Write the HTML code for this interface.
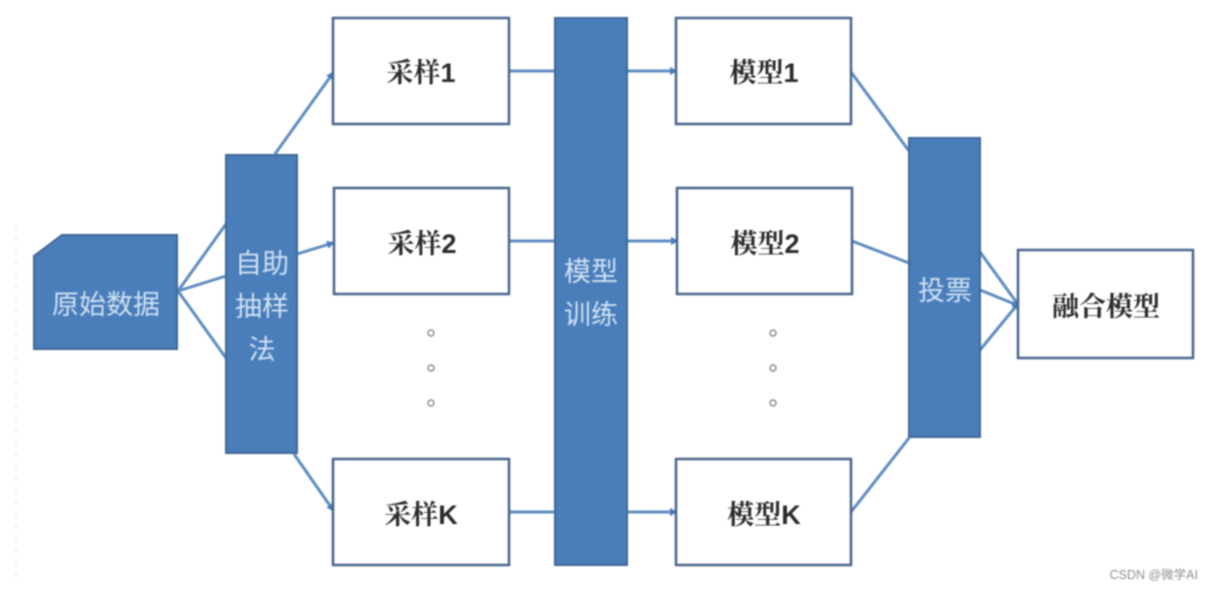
<!DOCTYPE html>
<html>
<head>
<meta charset="utf-8">
<style>
html,body{margin:0;padding:0;background:#fff;width:1212px;height:591px;overflow:hidden}
svg{display:block;filter:blur(0.7px)}
.b{font-family:"Liberation Sans","Noto Serif CJK SC",serif;font-size:27px;font-weight:700;fill:#2b2b2b;text-anchor:middle}
.w{font-family:"Liberation Sans","Noto Sans CJK SC",sans-serif;font-size:27px;fill:#cfe0f2;text-anchor:middle}
.box{fill:#fff;stroke:#48658c;stroke-width:2.5}
.bar{fill:#4a7ebb;stroke:#3f6797;stroke-width:2}
.l{stroke:#5f8cc0;stroke-width:3;fill:none}
.d{fill:#fff;stroke:#8a8a8a;stroke-width:1.5}
</style>
</head>
<body>
<svg width="1212" height="591" viewBox="0 0 1212 591" xmlns="http://www.w3.org/2000/svg">
<defs>
<marker id="a" markerWidth="8" markerHeight="8" refX="6" refY="4" orient="auto" markerUnits="userSpaceOnUse"><path d="M0 0L8 4L0 8Z" fill="#4a7ebb"/></marker>
</defs>
<rect width="1212" height="591" fill="#fff"/>
<line x1="16" y1="225" x2="16" y2="585" stroke="#e4e4e4" stroke-width="1" stroke-dasharray="4 8"/>

<!-- connectors -->
<line class="l" x1="178" y1="291" x2="226" y2="224"/>
<line class="l" x1="178" y1="291" x2="226" y2="276"/>
<line class="l" x1="178" y1="291" x2="226" y2="358"/>
<line class="l" x1="275" y1="154" x2="333" y2="73" marker-end="url(#a)"/>
<line class="l" x1="297" y1="254" x2="333" y2="243" marker-end="url(#a)"/>
<line class="l" x1="294" y1="454" x2="333" y2="510" marker-end="url(#a)"/>
<line class="l" x1="509" y1="71" x2="555" y2="71"/>
<line class="l" x1="509" y1="241" x2="555" y2="241"/>
<line class="l" x1="509" y1="512" x2="555" y2="512"/>
<line class="l" x1="627" y1="71" x2="676" y2="71" marker-end="url(#a)"/>
<line class="l" x1="627" y1="241" x2="677" y2="241" marker-end="url(#a)"/>
<line class="l" x1="627" y1="512" x2="676" y2="512" marker-end="url(#a)"/>
<line class="l" x1="851" y1="72" x2="909" y2="151"/>
<line class="l" x1="852" y1="241" x2="909" y2="263"/>
<line class="l" x1="851" y1="512" x2="909" y2="438"/>
<line class="l" x1="980" y1="252" x2="1017" y2="303"/>
<line class="l" x1="980" y1="290" x2="1017" y2="305"/>
<line class="l" x1="980" y1="350" x2="1017" y2="305"/>
<circle cx="1016" cy="305" r="4" fill="#4a7ebb"/>

<!-- source shape -->
<path d="M62 235H177V349H34V256Z" class="bar"/>
<text class="w" x="106" y="314">原始数据</text>

<!-- bars -->
<rect class="bar" x="226" y="155" width="71" height="298"/>
<text class="w" x="262" y="273">自助</text>
<text class="w" x="262" y="316">抽样</text>
<text class="w" x="262" y="359">法</text>

<rect class="bar" x="555" y="18" width="72" height="547"/>
<text class="w" x="591" y="281">模型</text>
<text class="w" x="591" y="324">训练</text>

<rect class="bar" x="909" y="138" width="71" height="299"/>
<text class="w" x="945" y="300">投票</text>

<!-- boxes -->
<rect class="box" x="333" y="18" width="176" height="106"/>
<text class="b" x="421" y="82">采样1</text>
<rect class="box" x="334" y="188" width="175" height="106"/>
<text class="b" x="422" y="253">采样2</text>
<rect class="box" x="333" y="459" width="176" height="106"/>
<text class="b" x="421" y="524">采样K</text>

<rect class="box" x="676" y="18" width="175" height="106"/>
<text class="b" x="764" y="82">模型1</text>
<rect class="box" x="677" y="188" width="175" height="106"/>
<text class="b" x="765" y="253">模型2</text>
<rect class="box" x="676" y="459" width="175" height="106"/>
<text class="b" x="764" y="524">模型K</text>

<rect class="box" x="1018" y="250" width="175" height="108"/>
<text class="b" x="1106" y="316">融合模型</text>

<!-- dots -->
<circle class="d" cx="431" cy="333" r="3"/>
<circle class="d" cx="431" cy="368" r="3"/>
<circle class="d" cx="431" cy="403" r="3"/>
<circle class="d" cx="773" cy="333" r="3"/>
<circle class="d" cx="773" cy="368" r="3"/>
<circle class="d" cx="773" cy="403" r="3"/>

<text x="1198" y="579" text-anchor="end" font-family="'Liberation Sans','Noto Sans CJK SC',sans-serif" font-size="12.5" fill="#8f8f8f">CSDN @微学AI</text>
</svg>
</body>
</html>
